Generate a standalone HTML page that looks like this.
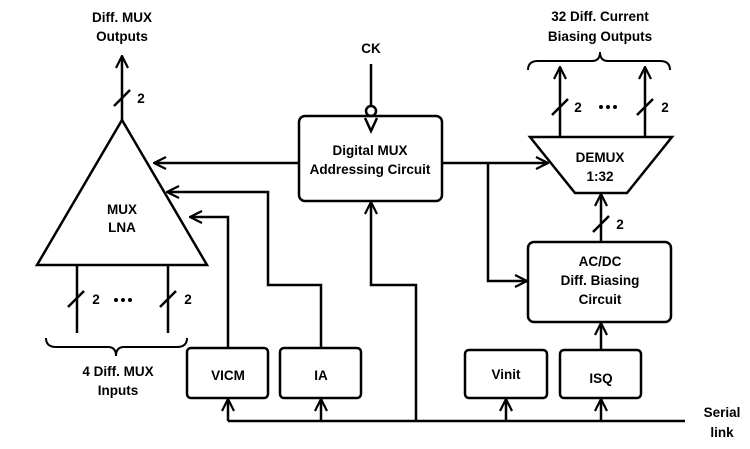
<!DOCTYPE html>
<html><head><style>
html,body{margin:0;padding:0;background:#fff;width:750px;height:449px;overflow:hidden}
svg text{font-family:"Liberation Sans",sans-serif;font-weight:bold;font-size:13.5px;fill:#000;text-anchor:middle}
</style></head><body>
<svg width="750" height="449" viewBox="0 0 750 449" xmlns="http://www.w3.org/2000/svg">
<defs>
<marker id="a" viewBox="0 0 14 14" refX="13" refY="7" markerWidth="14" markerHeight="14" markerUnits="userSpaceOnUse" orient="auto">
<path d="M1 1 L13 7 L1 13" fill="none" stroke="#000" stroke-width="2.2"/>
</marker>
</defs>
<g fill="none" stroke="#000" stroke-width="2.5">
<polygon points="122,120 37,265 207,265"/>
<line x1="122" y1="120" x2="122" y2="56" marker-end="url(#a)"/>
<line x1="114" y1="106" x2="130" y2="90"/>
<line x1="77" y1="265" x2="77" y2="333"/>
<line x1="168" y1="265" x2="168" y2="333"/>
<line x1="68" y1="307" x2="84" y2="291"/>
<line x1="160" y1="307" x2="176" y2="291"/>
<path d="M46 338 Q46 347 56 347 L108 347 Q116 347 116 356 Q116 347 124 347 L177 347 Q187 347 187 338" stroke-width="2"/>
<rect x="299" y="116" width="143" height="85" rx="6"/>
<line x1="371" y1="64" x2="371" y2="106"/>
<circle cx="371" cy="111" r="5"/>
<path d="M365 118 L371 131 L377 118"/>
<line x1="299" y1="163" x2="154" y2="163" marker-end="url(#a)"/>
<line x1="442" y1="163" x2="548" y2="163" marker-end="url(#a)"/>
<polyline points="488,163 488,281 527,281" marker-end="url(#a)"/>
<polyline points="321,348 321,285 268,285 268,192 167,192" marker-end="url(#a)"/>
<polyline points="228,348 228,217 190,217" marker-end="url(#a)"/>
<polyline points="416,421 416,285 371,285 371,202" marker-end="url(#a)"/>
<rect x="187" y="348" width="81" height="50" rx="4"/>
<rect x="280" y="348" width="81" height="50" rx="4"/>
<rect x="465" y="350" width="82" height="48" rx="4"/>
<rect x="560" y="350" width="81" height="48" rx="4"/>
<rect x="528" y="242" width="143" height="80" rx="6"/>
<line x1="228" y1="421" x2="685" y2="421"/>
<line x1="228" y1="421" x2="228" y2="399" marker-end="url(#a)"/>
<line x1="321" y1="421" x2="321" y2="399" marker-end="url(#a)"/>
<line x1="506" y1="421" x2="506" y2="399" marker-end="url(#a)"/>
<line x1="601" y1="421" x2="601" y2="399" marker-end="url(#a)"/>
<line x1="601" y1="350" x2="601" y2="323" marker-end="url(#a)"/>
<polygon points="530,137 672,137 627,193 575,193"/>
<line x1="601" y1="242" x2="601" y2="194" marker-end="url(#a)"/>
<line x1="593" y1="232" x2="609" y2="216"/>
<line x1="560" y1="137" x2="560" y2="67" marker-end="url(#a)"/>
<line x1="645" y1="137" x2="645" y2="67" marker-end="url(#a)"/>
<line x1="552" y1="115" x2="568" y2="99"/>
<line x1="637" y1="115" x2="653" y2="99"/>
<path d="M528 70 Q528 61 538 61 L592 61 Q600 61 600 52 Q600 61 608 61 L660 61 Q670 61 670 70" stroke-width="2"/>
</g>
<g fill="#000">
<circle cx="116" cy="300" r="2"/><circle cx="123" cy="300" r="2"/><circle cx="130" cy="300" r="2"/>
<circle cx="601" cy="107" r="2"/><circle cx="608" cy="107" r="2"/><circle cx="615" cy="107" r="2"/>
</g>
<text x="122" y="22">Diff. MUX</text>
<text x="122" y="41">Outputs</text>
<text x="141" y="103">2</text>
<text x="122" y="214">MUX</text>
<text x="122" y="232">LNA</text>
<text x="96" y="304">2</text>
<text x="188" y="304">2</text>
<text x="118" y="376">4 Diff. MUX</text>
<text x="118" y="395">Inputs</text>
<text x="371" y="53">CK</text>
<text x="370" y="155">Digital MUX</text>
<text x="370" y="174">Addressing Circuit</text>
<text x="228" y="380">VICM</text>
<text x="321" y="380">IA</text>
<text x="506" y="379">Vinit</text>
<text x="601" y="383">ISQ</text>
<text x="600" y="266">AC/DC</text>
<text x="600" y="285">Diff. Biasing</text>
<text x="600" y="304">Circuit</text>
<text x="600" y="162">DEMUX</text>
<text x="600" y="181">1:32</text>
<text x="620" y="229">2</text>
<text x="578" y="112">2</text>
<text x="665" y="112">2</text>
<text x="600" y="21">32 Diff. Current</text>
<text x="600" y="41">Biasing Outputs</text>
<text x="722" y="417">Serial</text>
<text x="722" y="437">link</text>
</svg>
</body></html>
